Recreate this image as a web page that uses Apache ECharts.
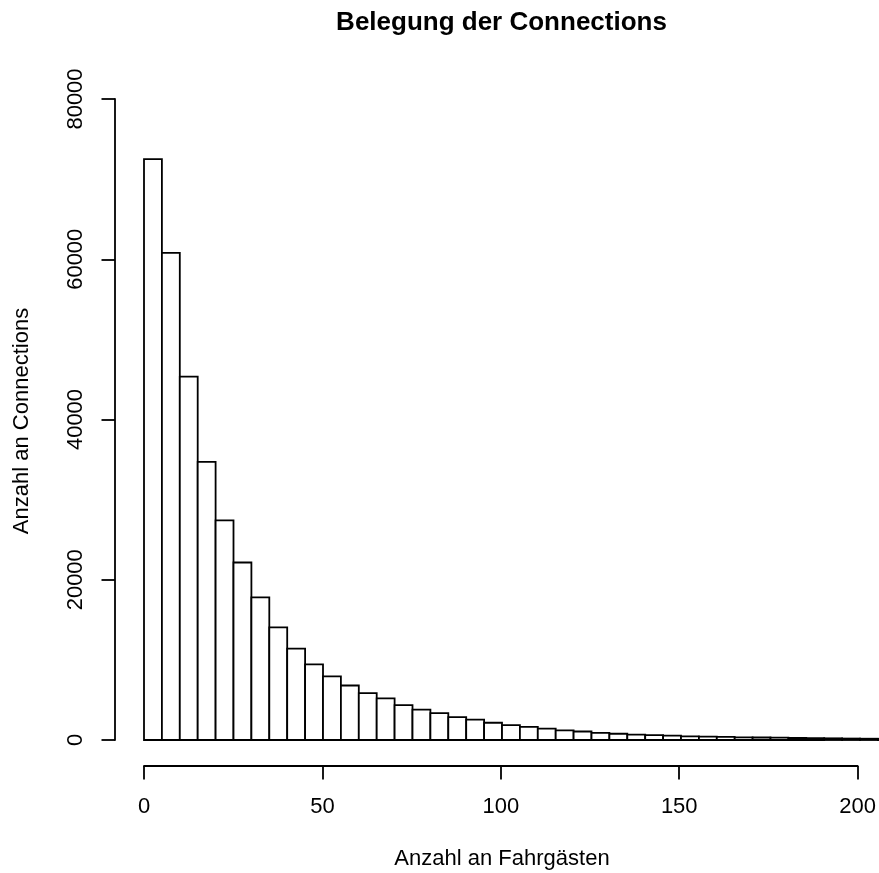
<!DOCTYPE html>
<html><head><meta charset="utf-8">
<script src="https://cdn.jsdelivr.net/npm/echarts@6/dist/echarts.min.js"></script>
<style>html,body{margin:0;padding:0;background:#fff}#c{width:879px;height:873px}</style>
</head><body><div id="c"></div>
<script>
// Histogram bin edges (Anzahl an Fahrgästen)
const binEdges = [0,5,10,15,20,25,30,35,40,45,50,55,60,65,70,75,80,85,90,95,100,105,110,115,120,125,130,135,140,145,150,155,160,165,170,175,180,185,190,195,200,205,210];
// Counts per bin (Anzahl an Connections)
const counts = [72500,60800,45350,34700,27400,22150,17800,14050,11400,9450,7950,6800,5850,5200,4350,3800,3350,2850,2550,2150,1850,1650,1420,1200,1060,900,780,660,620,540,460,430,400,340,310,290,250,230,210,180,160,140];
const xTicks = [0,50,100,150,200];
const yTicks = [0,20000,40000,60000,80000];
const titleText = 'Belegung der Connections';
const xTitle = 'Anzahl an Fahrgästen';
const yTitle = 'Anzahl an Connections';

const FONT = '"Liberation Sans", Arial, Helvetica, sans-serif';
const data = counts.map((c, i) => [binEdges[i], binEdges[i + 1], c]);
const pxPerUnit = 716 / (xTicks[xTicks.length - 1] - xTicks[0]);
const axisStyle = { color: '#000', width: 1.8 };

const chart = echarts.init(document.getElementById('c'), null, { renderer: 'canvas' });
chart.setOption({
  animation: false,
  backgroundColor: '#fff',
  grid: [
    { left: 144, width: 735, top: 99, height: 641 },
    { left: 144, width: 716, top: 99, height: 641 }
  ],
  xAxis: [
    { gridIndex: 0, type: 'value', min: 0, max: 735 / pxPerUnit, show: false },
    { gridIndex: 1, type: 'value', min: xTicks[0], max: xTicks[xTicks.length - 1], interval: 50,
      position: 'bottom', offset: 26,
      axisLine: { show: true, onZero: false, lineStyle: axisStyle },
      axisTick: { show: true, length: 13.5, inside: false, lineStyle: axisStyle },
      axisLabel: { show: true, fontSize: 22, fontFamily: FONT, color: '#000', margin: 30, lineHeight: 22,
                   formatter: v => String(v) },
      splitLine: { show: false } }
  ],
  yAxis: [
    { gridIndex: 0, type: 'value', min: yTicks[0], max: yTicks[yTicks.length - 1], interval: 20000,
      position: 'left', offset: 29,
      axisLine: { show: true, onZero: false, lineStyle: axisStyle },
      axisTick: { show: true, length: 13.5, inside: false, lineStyle: axisStyle },
      axisLabel: { show: true, rotate: 90, fontSize: 22, fontFamily: FONT, color: '#000', margin: 28, lineHeight: 22,
                   formatter: v => String(v) },
      splitLine: { show: false } },
    { gridIndex: 1, type: 'value', min: 0, max: 80000, show: false }
  ],
  series: [{
    type: 'custom',
    xAxisIndex: 0, yAxisIndex: 0,
    data: data,
    encode: { x: [0, 1], y: 2 },
    renderItem: function (params, api) {
      const p0 = api.coord([api.value(0), api.value(2)]);
      const p1 = api.coord([api.value(1), 0]);
      return {
        type: 'rect',
        shape: { x: p0[0], y: p0[1], width: p1[0] - p0[0], height: p1[1] - p0[1] },
        style: { fill: '#fff', stroke: '#000', lineWidth: 1.8 }
      };
    }
  }],
  graphic: [
    { type: 'text', x: 501.5, y: 23, style: { text: titleText, font: 'bold 26px ' + FONT, fill: '#000', textAlign: 'center', textVerticalAlign: 'middle' } },
    { type: 'text', x: 502, y: 859, style: { text: xTitle, font: '22px ' + FONT, fill: '#000', textAlign: 'center', textVerticalAlign: 'middle' } },
    { type: 'text', x: 21.7, y: 421, rotation: Math.PI / 2, style: { text: yTitle, font: '22px ' + FONT, fill: '#000', textAlign: 'center', textVerticalAlign: 'middle' } }
  ]
});
</script></body></html>
